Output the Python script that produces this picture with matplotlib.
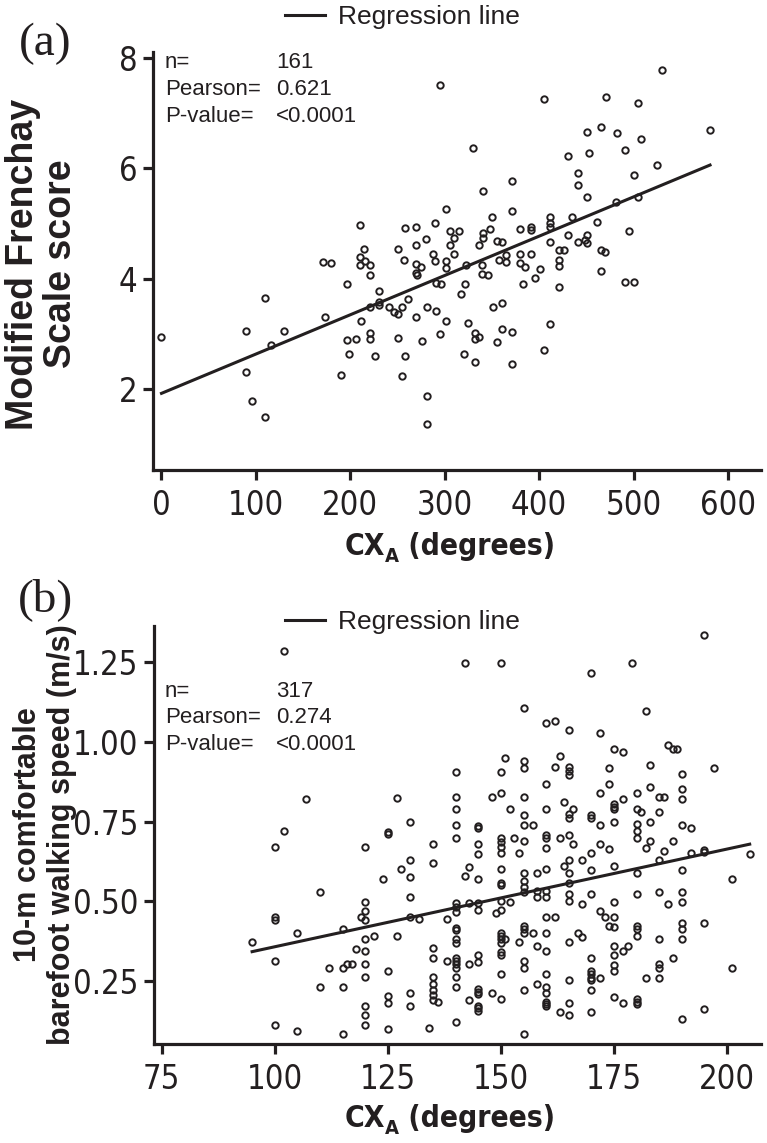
import matplotlib
matplotlib.use("Agg")
import matplotlib.pyplot as plt
from matplotlib import font_manager as fm

# ---------------- data ----------------
# Panel (a): CX_A (degrees) vs Modified Frenchay Scale score
a_x = [295, 530, 405, 471, 505, 466, 451, 483, 508, 330, 431, 453, 491, 525, 441, 501,
       441, 371, 341, 451, 481, 505, 301, 371, 350, 411, 411, 411, 435, 461, 495, 258,
       270, 290, 306, 315, 310, 280, 270, 251, 306, 341, 341, 348, 336, 355, 361, 380,
       391, 391, 431, 441, 451, 449, 451, 411, 421, 426, 465, 470, 288, 310, 365, 380,
       391, 257, 290, 301, 301, 270, 275, 270, 271, 323, 340, 358, 365, 380, 385, 401,
       421, 421, 465, 491, 501, 421, 396, 383, 340, 346, 321, 317, 291, 296, 230, 230,
       230, 261, 241, 246, 251, 255, 270, 281, 291, 301, 325, 351, 361, 411, 361, 371,
       332, 332, 336, 295, 251, 276, 355, 405, 258, 320, 332, 371, 255, 281, 281, 0,
       90, 110, 130, 116, 90, 96, 110, 171, 180, 173, 196, 214, 210, 216, 221, 210,
       221, 221, 211, 221, 221, 196, 206, 199, 226, 190, 210, 581]
a_y = [7.51, 7.78, 7.25, 7.30, 7.18, 6.75, 6.66, 6.64, 6.53, 6.37, 6.23, 6.27, 6.34, 6.06, 5.91, 5.88,
       5.70, 5.77, 5.59, 5.48, 5.39, 5.48, 5.26, 5.22, 5.12, 5.11, 5.01, 4.94, 5.11, 5.03, 4.86, 4.92,
       4.93, 5.01, 4.86, 4.86, 4.74, 4.72, 4.61, 4.54, 4.61, 4.83, 4.74, 4.90, 4.61, 4.68, 4.66, 4.90,
       4.93, 4.89, 4.79, 4.66, 4.79, 4.70, 4.64, 4.66, 4.52, 4.52, 4.52, 4.48, 4.44, 4.44, 4.42, 4.44,
       4.45, 4.34, 4.32, 4.32, 4.19, 4.26, 4.22, 4.11, 4.07, 4.25, 4.24, 4.34, 4.31, 4.29, 4.22, 4.17,
       4.34, 4.23, 4.14, 3.94, 3.94, 3.85, 4.02, 3.91, 4.08, 4.06, 3.91, 3.72, 3.93, 3.90, 3.78, 3.57,
       3.52, 3.63, 3.48, 3.40, 3.35, 3.49, 3.30, 3.49, 3.42, 3.23, 3.20, 3.49, 3.56, 3.18, 3.09, 3.04,
       3.01, 2.91, 2.94, 3.00, 2.93, 2.87, 2.85, 2.70, 2.60, 2.63, 2.48, 2.46, 2.23, 1.87, 1.37, 2.94,
       3.05, 3.65, 3.05, 2.80, 2.31, 1.79, 1.49, 4.31, 4.28, 3.30, 3.90, 4.54, 4.40, 4.32, 4.24, 4.24,
       4.07, 3.49, 3.23, 3.01, 2.91, 2.88, 2.91, 2.63, 2.59, 2.25, 4.98, 6.70]
a_reg_x = [0, 581]
a_reg_y = [1.92, 6.06]
a_stats = [("n=", "161"), ("Pearson=", "0.621"), ("P-value=", "<0.0001")]

# Panel (b): CX_A (degrees) vs 10-m comfortable barefoot walking speed (m/s)
b_pts = [
    (102, 1.285), (107, 0.82), (102, 0.72), (100, 0.67), (127, 0.825), (130, 0.75), (125, 0.716),
    (125, 0.712), (120, 0.67), (135, 0.68), (140, 0.906), (140, 0.828), (140, 0.788), (140, 0.739),
    (140, 0.699),
    (195, 1.336), (142, 1.246), (150, 1.246), (170, 1.216), (179, 1.246), (155, 1.107), (182, 1.096),
    (160, 1.058), (162, 1.066), (165, 1.037), (172, 1.028), (175, 0.977), (177, 0.967), (187, 0.99),
    (188, 0.977), (189, 0.977), (197, 0.919), (151, 0.949), (155, 0.94), (155, 0.917), (163, 0.956),
    (162, 0.92), (165, 0.92), (165, 0.908), (165, 0.896), (150, 0.906), (174, 0.917), (183, 0.927),
    (190, 0.899), (160, 0.867), (174, 0.867), (183, 0.857), (190, 0.851), (190, 0.82), (185, 0.828),
    (186, 0.828), (180, 0.838), (172, 0.838), (148, 0.828), (150, 0.838), (155, 0.828), (145, 0.736),
    (145, 0.729), (152, 0.788), (155, 0.77), (155, 0.739), (157, 0.739), (160, 0.788), (164, 0.81),
    (166, 0.788), (165, 0.773), (165, 0.76), (170, 0.77), (170, 0.76), (172, 0.739), (175, 0.805),
    (175, 0.794), (175, 0.788), (175, 0.749), (177, 0.82), (180, 0.788), (181, 0.779), (185, 0.781),
    (183, 0.749), (190, 0.739), (192, 0.73), (180, 0.741), (180, 0.72), (180, 0.699), (183, 0.69),
    (182, 0.668), (188, 0.69), (186, 0.658), (145, 0.678), (150, 0.699), (150, 0.687), (150, 0.669),
    (150, 0.65), (153, 0.699), (155, 0.689), (160, 0.708), (160, 0.699), (160, 0.668), (163, 0.699),
    (165, 0.708), (166, 0.678), (172, 0.678), (174, 0.663), (154, 0.65), (145, 0.648), (170, 0.65),
    (192, 0.65), (195, 0.66), (195, 0.655), (205, 0.648),
    (190, 0.598), (185, 0.629), (180, 0.59), (175, 0.61), (170, 0.598), (168, 0.629), (165, 0.629),
    (165, 0.59), (165, 0.558), (164, 0.61), (160, 0.6), (158, 0.59), (155, 0.59), (155, 0.564),
    (155, 0.545), (155, 0.528), (150, 0.6), (150, 0.558), (150, 0.551), (145, 0.569), (143, 0.608),
    (142, 0.579), (135, 0.621), (130, 0.629), (130, 0.577), (128, 0.6), (130, 0.512), (130, 0.45),
    (132, 0.443), (138, 0.443), (140, 0.494), (140, 0.483), (140, 0.467), (143, 0.494), (145, 0.494),
    (145, 0.473), (150, 0.5), (149, 0.464), (150, 0.473), (152, 0.499), (158, 0.532), (158, 0.512),
    (160, 0.532), (160, 0.512), (165, 0.522), (165, 0.5), (168, 0.491), (170, 0.522), (175, 0.499),
    (172, 0.47), (173, 0.45), (175, 0.45), (174, 0.422), (175, 0.418), (180, 0.522), (185, 0.53),
    (187, 0.491), (190, 0.53), (190, 0.499), (201, 0.569), (160, 0.45), (162, 0.45), (155, 0.422),
    (155, 0.412), (155, 0.401), (157, 0.401), (160, 0.401), (150, 0.401), (150, 0.391), (150, 0.381),
    (150, 0.37), (151, 0.381), (140, 0.415), (140, 0.41), (140, 0.381), (140, 0.368), (135, 0.352),
    (135, 0.321), (138, 0.313), (140, 0.321), (140, 0.313), (140, 0.302), (140, 0.29), (143, 0.303),
    (145, 0.331), (145, 0.31), (150, 0.342), (150, 0.331), (150, 0.272), (154, 0.371), (158, 0.36),
    (160, 0.344), (155, 0.313), (155, 0.29), (165, 0.371), (167, 0.401), (168, 0.389), (170, 0.321),
    (175, 0.36), (175, 0.331), (175, 0.3), (175, 0.282), (177, 0.344), (178, 0.36), (180, 0.422),
    (180, 0.412), (180, 0.392), (185, 0.381), (190, 0.433), (190, 0.412), (190, 0.381), (195, 0.433),
    (188, 0.321), (185, 0.302), (185, 0.29), (201, 0.29), (170, 0.281), (170, 0.271), (170, 0.26),
    (170, 0.253), (172, 0.26), (182, 0.26), (185, 0.26), (160, 0.272), (165, 0.253), (158, 0.24),
    (160, 0.23), (160, 0.211), (160, 0.184), (160, 0.178), (160, 0.172), (155, 0.222), (150, 0.193),
    (148, 0.211), (145, 0.224), (145, 0.216), (145, 0.209), (145, 0.172), (145, 0.164), (145, 0.157),
    (143, 0.19), (140, 0.263), (140, 0.232), (135, 0.263), (135, 0.24), (135, 0.222), (135, 0.206),
    (135, 0.19), (136, 0.183), (130, 0.211), (130, 0.173), (140, 0.122), (134, 0.102), (155, 0.084),
    (163, 0.152), (165, 0.143), (165, 0.182), (170, 0.152), (170, 0.222), (175, 0.201), (177, 0.182),
    (180, 0.193), (180, 0.185), (180, 0.178), (190, 0.131), (195, 0.162),
    (124, 0.569), (110, 0.53), (120, 0.499), (120, 0.471), (120, 0.441), (119, 0.45), (100, 0.45),
    (100, 0.441), (105, 0.401), (95, 0.371), (115, 0.412), (120, 0.383), (122, 0.392), (127, 0.392),
    (118, 0.351), (120, 0.344), (100, 0.312), (112, 0.291), (115, 0.291), (116, 0.303), (117, 0.303),
    (120, 0.303), (120, 0.263), (125, 0.281), (110, 0.231), (115, 0.231), (125, 0.202), (125, 0.182),
    (120, 0.173), (120, 0.143), (120, 0.113), (100, 0.113), (105, 0.093), (115, 0.084), (125, 0.1),
]
b_x = [p[0] for p in b_pts]
b_y = [p[1] for p in b_pts]
b_reg_x = [95, 205]
b_reg_y = [0.342, 0.679]
b_stats = [("n=", "317"), ("Pearson=", "0.274"), ("P-value=", "<0.0001")]

a_xticks = [0, 100, 200, 300, 400, 500, 600]
a_yticks = [2, 4, 6, 8]
b_xticks = [75, 100, 125, 150, 175, 200]
b_yticks = [0.25, 0.50, 0.75, 1.00, 1.25]
b_yticklabels = ["0.25", "0.50", "0.75", "1.00", "1.25"]

# ---------------- fonts ----------------
INK = "#231f20"
names = {f.name for f in fm.fontManager.ttflist}
SANS = "Liberation Sans" if "Liberation Sans" in names else "DejaVu Sans"
SERIF = "Liberation Serif" if "Liberation Serif" in names else "DejaVu Serif"


def find_condensed(bold):
    cond = ("condensed", "semi-condensed", "extra-condensed")
    want = 700 if bold else 400
    best = None
    for f in fm.fontManager.ttflist:
        w = f.weight if isinstance(f.weight, int) else (700 if "bold" in str(f.weight) else 400)
        is_narrow = (str(f.stretch) in cond or "Narrow" in f.name or "Condensed" in f.name)
        if not is_narrow or f.style != "normal" or abs(w - want) > 100:
            continue
        if "Sans" in f.name or "Roboto" in f.name:
            if best is None or "Liberation" in f.name:
                best = f
    return best


cond_reg = find_condensed(False)
cond_bold = find_condensed(True)
if cond_reg is not None:
    TICK_FP = fm.FontProperties(fname=cond_reg.fname, size=23.5)
else:
    TICK_FP = fm.FontProperties(family=SANS, size=21)
if cond_bold is not None:
    XLAB_FP = fm.FontProperties(fname=cond_bold.fname, size=21.5)
    XLAB_FP_SUB = fm.FontProperties(fname=cond_bold.fname, size=14.5)
else:
    XLAB_FP = fm.FontProperties(family=SANS, weight="bold", size=20)
    XLAB_FP_SUB = fm.FontProperties(family=SANS, weight="bold", size=13.5)

plt.rcParams["font.family"] = [SANS, "DejaVu Sans"]

W, H = 767, 1143
fig = plt.figure(figsize=(W / 100, H / 100), dpi=100)


def fx(px):
    return px / W


def fy(py):
    return 1 - py / H


def style_axes(ax):
    for s in ("top", "right"):
        ax.spines[s].set_visible(False)
    for s in ("left", "bottom"):
        ax.spines[s].set_linewidth(2.3)
        ax.spines[s].set_color(INK)
    ax.tick_params(direction="out", length=7, width=2.3, color=INK, labelcolor=INK)
    ax.tick_params(axis="y", pad=4)
    ax.tick_params(axis="x", pad=7)
    for lab in ax.get_xticklabels() + ax.get_yticklabels():
        lab.set_fontproperties(TICK_FP)


def xlabel(ax, cx, cy):
    # "CX" with subscript "A", then " (degrees)", as one centred group
    r = fig.canvas.get_renderer()
    t1 = fig.text(0, 0, "CX", fontproperties=XLAB_FP, color=INK, va="baseline")
    t2 = fig.text(0, 0, "A", fontproperties=XLAB_FP_SUB, color=INK, va="baseline")
    t3 = fig.text(0, 0, " (degrees)", fontproperties=XLAB_FP, color=INK, va="baseline")
    w1 = t1.get_window_extent(r).width
    w2 = t2.get_window_extent(r).width
    w3 = t3.get_window_extent(r).width
    x0 = cx - (w1 + w2 + w3) / 2
    t1.set_position((fx(x0), fy(cy)))
    t2.set_position((fx(x0 + w1), fy(cy + 7)))
    t3.set_position((fx(x0 + w1 + w2), fy(cy)))


def panel(ax, x, y, rx, ry, stats, stat_rows, legend_y, letter, letter_y):
    ax.plot(x, y, "o", ls="none", mfc="none", mec=INK, ms=4.6, mew=1.4, zorder=3)
    ax.plot(rx, ry, "-", color=INK, lw=2.2, label="Regression line", zorder=4)
    leg = ax.legend(loc="center left", bbox_to_anchor=(fx(285), fy(legend_y)),
                    bbox_transform=fig.transFigure, frameon=False, fontsize=19,
                    handlelength=1.5, handletextpad=0.5, borderpad=0, borderaxespad=0)
    for t in leg.get_texts():
        t.set_color(INK)
    for (k, v), yb in zip(stats, stat_rows):
        fig.text(fx(165), fy(yb), k, fontsize=16, color=INK, va="baseline", ha="left")
        fig.text(fx(276), fy(yb), v, fontsize=16, color=INK, va="baseline", ha="left")
    fig.text(fx(45), fy(letter_y), letter, family=SERIF, fontsize=34, color=INK,
             ha="center", va="center")


# ---------------- panel (a) ----------------
ax1 = fig.add_axes([fx(153), fy(470), fx(761) - fx(153), fy(52) - fy(470)])
ax1.set_xlim(-9, 635)
ax1.set_ylim(0.53, 8.11)
ax1.set_xticks(a_xticks)
ax1.set_yticks(a_yticks)
style_axes(ax1)
panel(ax1, a_x, a_y, a_reg_x, a_reg_y, a_stats, [68, 95, 122], 17, "(a)", 44)
xlabel(ax1, 450, 555)
fig.text(fx(42), fy(264), "Modified Frenchay\nScale score", rotation=90,
         ha="center", va="center", multialignment="center", fontsize=27,
         fontweight="bold", color=INK, linespacing=1.05)

# ---------------- panel (b) ----------------
ax2 = fig.add_axes([fx(153.5), fy(1044), fx(761) - fx(153.5), fy(626) - fy(1044)])
ax2.set_xlim(73.2, 207.5)
ax2.set_ylim(0.0525, 1.363)
ax2.set_xticks(b_xticks)
ax2.set_yticks(b_yticks)
ax2.set_yticklabels(b_yticklabels)
style_axes(ax2)
panel(ax2, b_x, b_y, b_reg_x, b_reg_y, b_stats, [697, 723, 750], 622, "(b)", 600)
xlabel(ax2, 450, 1127)
fig.text(fx(45), fy(835), "10-m comfortable\nbarefoot walking speed (m/s)", rotation=90,
         ha="center", va="center", multialignment="center", fontsize=22,
         fontweight="bold", color=INK, linespacing=1.15)

fig.savefig("out.png", dpi=100)
